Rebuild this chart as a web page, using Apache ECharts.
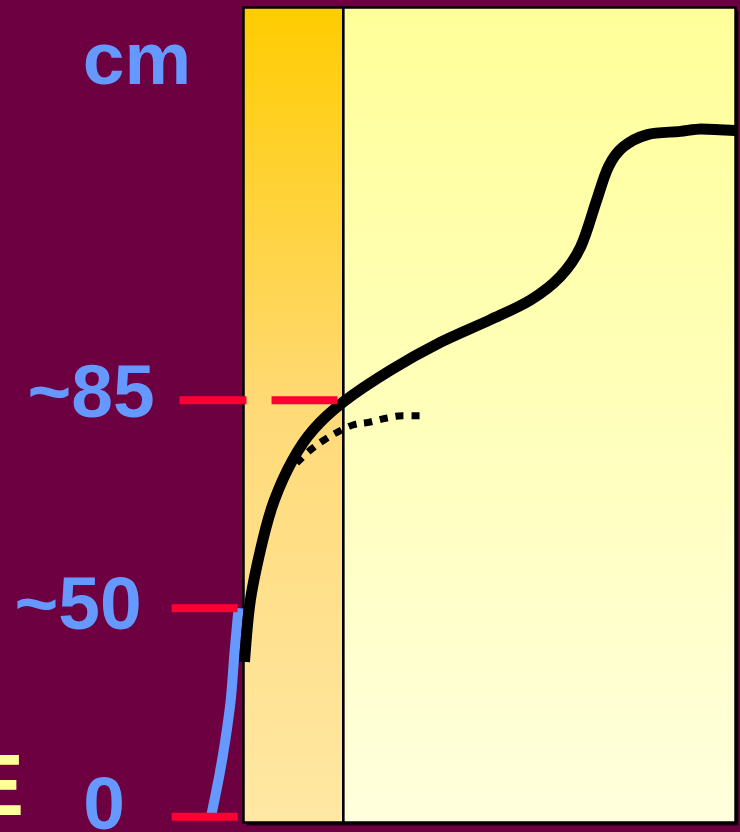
<!DOCTYPE html>
<html><head><meta charset="utf-8">
<style>html,body{margin:0;padding:0;background:#6D0041;}#c{width:740px;height:832px;}</style>
<script src="https://cdn.jsdelivr.net/npm/echarts@6/dist/echarts.min.js"></script>
</head><body><div id="c"></div>
<script>
// ---- data (axis units: x 0..100 across the plot box, y 0..100 schematic height) ----
const tickLabels = ['0', '~50', '~85'];
const tickPositions = [0.7, 26.3, 51.8];
const unitLabel = 'cm';
const sideLabel = 'E';
const bandEnd = 20.3;
const growthX = [0.2, 1.4, 3.9, 6.3, 10.0, 14.2, 20.3, 29.9, 40.0, 50.2, 58.3, 64.4, 68.5, 71.8, 74.2, 77.2, 82.1, 88.8, 93.0, 100];
const growthY = [19.7, 27.3, 34.6, 39.6, 44.5, 48.2, 51.6, 55.5, 58.9, 61.7, 64.1, 67.0, 70.6, 76.4, 80.5, 82.9, 84.4, 84.8, 85.1, 84.9];
const dottedX = [10.8, 13.6, 16.3, 19.1, 22.4, 25.4, 28.9, 32.3, 36.0];
const dottedY = [44.1, 45.7, 46.9, 47.9, 48.8, 49.1, 49.6, 49.9, 49.9];
const prenatalX = [-1.0, -1.8, -2.6, -3.7, -4.9, -6.5];
const prenatalY = [26.3, 21.1, 15.0, 10.1, 5.8, 1.0];

// ---- style / layout ----
const viewX = [-49.49, 100.91];   // whole canvas in axis units
const viewY = [-1.17, 100.92];
const shadowShift = [0.61, -0.37]; // 3px drop shadow of the plot box, in axis units
const tickSpans = [[[-14.6, -1.2]], [[-14.6, -1.2]], [[-13.0, 0.6], [5.7, 19.1]]];
const labelX = [104, 78, 91];
const labelDy = [-8, 0, -4];
const labelFont = {fontFamily: 'Liberation Sans, Arial, sans-serif', fontWeight: 'bold', fontSize: 75, fill: '#6699FF'};

const zip = (a, b) => a.map((v, i) => [v, b[i]]);
const chart = echarts.init(document.getElementById('c'), null, {renderer: 'canvas'});
const boxStyle = (stops) => ({
  color: new echarts.graphic.LinearGradient(0, 0, 0, 1, stops),
  borderColor: '#000', borderWidth: 2.5
});

const series = [
  {
    type: 'line', data: zip(growthX, growthY), smooth: 0.3, showSymbol: false, z: 5,
    lineStyle: {color: '#000', width: 11, cap: 'butt'},
    markArea: {
      silent: true,
      data: [
        [{xAxis: shadowShift[0], yAxis: shadowShift[1], itemStyle: {color: 'rgba(0,0,0,0.8)'}}, {xAxis: 100 + shadowShift[0], yAxis: 100 + shadowShift[1]}],
        [{xAxis: 0, yAxis: 0, itemStyle: boxStyle([{offset: 0, color: '#FFCC00'}, {offset: 0.5, color: '#FFDA78'}, {offset: 1, color: '#FFE8A4'}])}, {xAxis: bandEnd, yAxis: 100}],
        [{xAxis: bandEnd, yAxis: 0, itemStyle: boxStyle([{offset: 0, color: '#FFFF99'}, {offset: 1, color: '#FFFFDD'}])}, {xAxis: 100, yAxis: 100}]
      ]
    }
  },
  {
    type: 'line', data: zip(dottedX, dottedY), smooth: 0.4, showSymbol: false, z: 5,
    lineStyle: {color: '#000', width: 7, type: [8, 8]}
  },
  {
    type: 'line', data: zip(prenatalX, prenatalY), smooth: 0.3, showSymbol: false, z: 4,
    lineStyle: {color: '#6699FF', width: 10}
  }
];
tickPositions.forEach((y, i) => {
  tickSpans[i].forEach(s => {
    series.push({type: 'line', data: [[s[0], y], [s[1], y]], showSymbol: false, z: 6,
      lineStyle: {color: '#FF0033', width: 8}});
  });
});

chart.setOption({
  animation: false,
  backgroundColor: '#6D0041',
  grid: {left: 0, top: 0, right: 0, bottom: 0},
  xAxis: {type: 'value', min: viewX[0], max: viewX[1], show: false},
  yAxis: {type: 'value', min: viewY[0], max: viewY[1], show: false},
  series: series
});

const g = [];
tickLabels.forEach((t, i) => {
  const p = chart.convertToPixel({gridIndex: 0}, [0, tickPositions[i]]);
  g.push({type: 'text', x: labelX[i], y: p[1] + labelDy[i], z: 10,
    style: Object.assign({text: t, textAlign: 'center', textVerticalAlign: 'middle'}, labelFont)});
});
g.push({type: 'text', x: 137, y: 63, z: 10,
  style: Object.assign({text: unitLabel, textAlign: 'center', textVerticalAlign: 'middle'}, labelFont)});
g.push({type: 'text', x: 24, y: 791, z: 10,
  style: {text: sideLabel, textAlign: 'right', textVerticalAlign: 'middle', fontFamily: 'Liberation Sans, Arial, sans-serif', fontWeight: 'bold', fontSize: 87, fill: '#FFFF99'}});
chart.setOption({graphic: g});
</script>
</body></html>
